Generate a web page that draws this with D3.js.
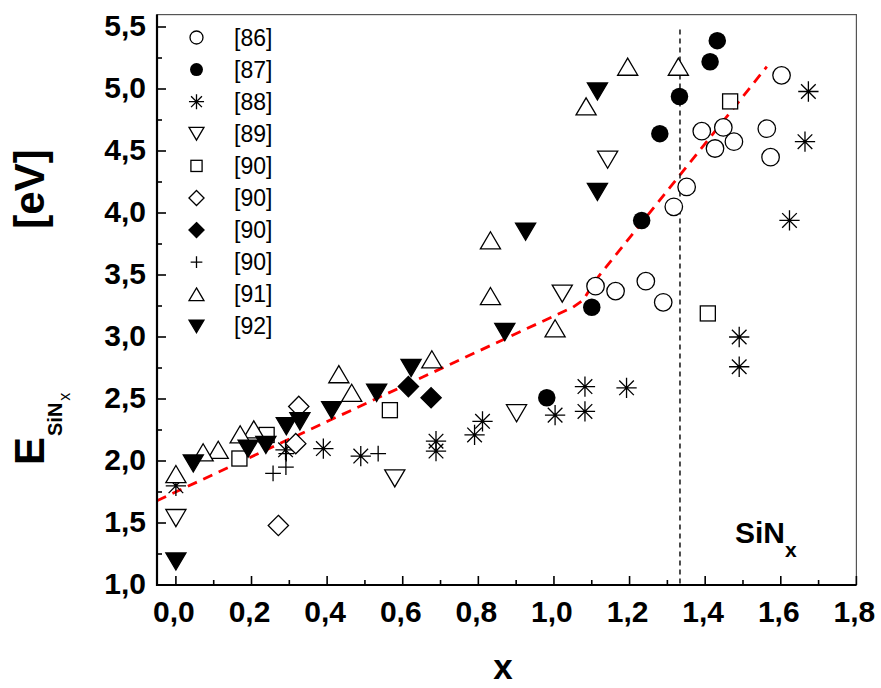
<!DOCTYPE html>
<html><head><meta charset="utf-8">
<script src="https://cdn.jsdelivr.net/npm/d3@7"></script>
<style>body{margin:0;background:#fff}svg{display:block}</style>
</head><body>
<svg id="c" width="881" height="688"></svg>
<script>
// ---------- data ----------
const xTicks = [0.0,0.2,0.4,0.6,0.8,1.0,1.2,1.4,1.6,1.8];
const yTicks = [1.0,1.5,2.0,2.5,3.0,3.5,4.0,4.5,5.0,5.5];
const legendLabels = ["[86]","[87]","[88]","[89]","[90]","[90]","[90]","[90]","[91]","[92]"];
const symbolKinds = ["circleOpen","circleFilled","asterisk","triDownOpen","square","diamondOpen","diamondFilled","plus","triUpOpen","triDownFilled"];

const ref86 = [[1.602,5.11],[1.391,4.66],[1.448,4.69],[1.426,4.52],[1.476,4.575],[1.563,4.68],[1.573,4.45],[1.351,4.21],[1.317,4.05],[1.110,3.41],[1.163,3.37],[1.243,3.45],[1.289,3.28]];
const ref87 = [[1.432,5.39],[1.413,5.22],[1.332,4.94],[1.280,4.64],[1.232,3.94],[1.100,3.24],[0.981,2.51]];
const ref88 = [[1.673,4.98],[1.664,4.575],[1.623,3.94],[1.490,3.00],[1.490,2.76],[1.082,2.60],[1.192,2.59],[1.082,2.40],[1.003,2.37],[0.811,2.32],[0.790,2.21],[0.688,2.16],[0.688,2.08],[0.489,2.04],[0.390,2.10],[0.290,2.09],[0.0,1.80]];
const ref89 = [[1.142,4.43],[1.022,3.35],[0.901,2.385],[0.579,1.86],[0.0,1.54]];
const ref90sq = [[1.466,4.90],[1.407,3.19],[0.566,2.41],[0.240,2.21],[0.168,2.02]];
const ref90di = [[0.325,2.44],[0.317,2.14],[0.271,1.48]];
const ref90fd = [[0.615,2.60],[0.675,2.51]];
const ref90pl = [[0.257,1.90],[0.291,1.95],[0.292,2.06],[0.535,2.06]];
const ref91 = [[1.195,5.18],[1.329,5.18],[1.085,4.86],[0.832,3.78],[0.832,3.33],[1.003,3.07],[0.677,2.82],[0.431,2.70],[0.465,2.55],[0.206,2.255],[0.170,2.215],[0.112,2.09],[0.072,2.07],[0.0,1.895]];
const ref92 = [[1.115,4.98],[1.115,4.17],[0.925,3.85],[0.870,3.04],[0.622,2.75],[0.531,2.55],[0.412,2.41],[0.328,2.32],[0.292,2.28],[0.238,2.13],[0.191,2.10],[0.046,1.98],[0.0,1.19]];
const fitLine = [[-0.05,1.68],[1.05,3.24],[1.078,3.30],[1.108,3.45],[1.563,5.18]];
const si3n4X = 4/3;

const seriesData = [ref86,ref87,ref88,ref89,ref90sq,ref90di,ref90fd,ref90pl,ref91,ref92];

// ---------- layout ----------
const svg = d3.select("#c");
const L = 157, R = 856.4, T = 14.6, B = 585;
const x = d3.scaleLinear().domain([-0.05,1.8]).range([L,R]);
const y = d3.scaleLinear().domain([1.0,5.6]).range([B,T]);
const fmt = v => d3.format(".1f")(v).replace(".",",");
const FONT = "'Liberation Sans', Arial, Helvetica, sans-serif";

// frame (top/right)
svg.append("rect").attr("x",L).attr("y",T).attr("width",R-L).attr("height",B-T)
  .attr("fill","none").attr("stroke","#555").attr("stroke-width",1.2);

// symbol drawing
function sym(g, kind, s) {
  const sw = 1.3;
  switch(kind){
    case "circleOpen": g.append("circle").attr("r",s*0.5).attr("fill","#fff").attr("stroke","#000").attr("stroke-width",sw); break;
    case "circleFilled": g.append("circle").attr("r",s*0.5).attr("fill","#000"); break;
    case "square": g.append("rect").attr("x",-s*0.43).attr("y",-s*0.43).attr("width",s*0.86).attr("height",s*0.86).attr("fill","#fff").attr("stroke","#000").attr("stroke-width",sw); break;
    case "diamondOpen": case "diamondFilled": {
      const r = s*0.58;
      g.append("path").attr("d",`M0,${-r}L${r},0L0,${r}L${-r},0Z`)
       .attr("fill",kind==="diamondFilled"?"#000":"#fff").attr("stroke","#000").attr("stroke-width",sw); break; }
    case "triUpOpen": { const w=s*1.15, h=w*0.85;
      g.append("path").attr("d",`M0,${-h/2}L${w/2},${h/2}L${-w/2},${h/2}Z`).attr("fill","#fff").attr("stroke","#000").attr("stroke-width",sw); break; }
    case "triDownOpen": case "triDownFilled": { const w=s*1.15, h=w*0.85;
      g.append("path").attr("d",`M0,${h/2}L${w/2},${-h/2}L${-w/2},${-h/2}Z`)
       .attr("fill",kind==="triDownFilled"?"#000":"#fff").attr("stroke","#000").attr("stroke-width",sw); break; }
    case "plus": { const r=s*0.45;
      g.append("path").attr("d",`M${-r},0H${r}M0,${-r}V${r}`).attr("stroke","#000").attr("stroke-width",sw).attr("fill","none"); break; }
    case "asterisk": { const r=s*0.58, d=r*0.72;
      g.append("path").attr("d",`M0,${-r}V${r}M${-r},0H${r}M${-d},${-d}L${d},${d}M${-d},${d}L${d},${-d}`)
       .attr("stroke","#000").attr("stroke-width",sw).attr("fill","none"); break; }
  }
}

// red dashed fit
svg.append("path").datum(fitLine)
  .attr("d", d3.line().x(d=>x(d[0])).y(d=>y(d[1])))
  .attr("fill","none").attr("stroke","#ff0000").attr("stroke-width",2.8)
  .attr("stroke-dasharray","10,7");

// vertical Si3N4 line
svg.append("line").attr("x1",x(si3n4X)).attr("x2",x(si3n4X)).attr("y1",y(5.48)).attr("y2",B)
  .attr("stroke","#222").attr("stroke-width",1.6).attr("stroke-dasharray","5,4");

// markers
seriesData.forEach((data,i)=>{
  data.forEach(p=>{
    const g = svg.append("g").attr("transform",`translate(${x(p[0])},${y(p[1])})`);
    sym(g, symbolKinds[i], 17.5);
  });
});

// axes lines
svg.append("line").attr("x1",L).attr("x2",L).attr("y1",T).attr("y2",B+1).attr("stroke","#000").attr("stroke-width",2.2);
svg.append("line").attr("x1",L-1).attr("x2",R).attr("y1",B).attr("y2",B).attr("stroke","#000").attr("stroke-width",2.2);

// x ticks
d3.range(0,1.81,0.1).forEach(v=>{
  const major = Math.abs(Math.round(v*10)%2)===0;
  svg.append("line").attr("x1",x(v)).attr("x2",x(v)).attr("y1",B).attr("y2",B-(major?9:5))
    .attr("stroke","#000").attr("stroke-width",1.6);
});
xTicks.forEach(v=>{
  svg.append("text").attr("x",x(v)-2).attr("y",622).attr("text-anchor","middle")
    .attr("font-family",FONT).attr("font-weight","bold").attr("font-size",30).text(fmt(v));
});
// y ticks
d3.range(1.0,5.51,0.25).forEach(v=>{
  const major = Math.abs(Math.round(v*4)%2)===0;
  svg.append("line").attr("x1",L).attr("x2",L+(major?9:5)).attr("y1",y(v)).attr("y2",y(v))
    .attr("stroke","#000").attr("stroke-width",1.6);
});
yTicks.forEach(v=>{
  svg.append("text").attr("x",146).attr("y",y(v)+9).attr("text-anchor","end")
    .attr("font-family",FONT).attr("font-weight","bold").attr("font-size",30).text(fmt(v));
});

// axis titles
svg.append("text").attr("x",503).attr("y",679).attr("text-anchor","middle")
  .attr("font-family",FONT).attr("font-weight","bold").attr("font-size",35).text("x");
svg.append("text").attr("transform","translate(44,189) rotate(-90)").attr("text-anchor","middle")
  .attr("font-family",FONT).attr("font-weight","bold").attr("font-size",42).text("[eV]");
const et = svg.append("text").attr("transform","translate(44,465) rotate(-90)")
  .attr("font-family",FONT).attr("font-weight","bold");
et.append("tspan").attr("font-size",42).text("E");
et.append("tspan").attr("font-size",20).attr("dy",18).attr("dx",1).text("SiN");
et.append("tspan").attr("font-size",16).attr("dy",8).attr("dx",2).attr("font-weight","normal").text("x");

// SiNx label
const st = svg.append("text").attr("x",735).attr("y",543).attr("font-family",FONT).attr("font-weight","bold");
st.append("tspan").attr("font-size",30).text("SiN");
st.append("tspan").attr("font-size",21).attr("dy",14).text("x");

// legend
legendLabels.forEach((lab,i)=>{
  const yy = 37.5 + i*32.1;
  const g = svg.append("g").attr("transform",`translate(196.5,${yy})`);
  sym(g, symbolKinds[i], 13);
  svg.append("text").attr("x",234).attr("y",yy+8).attr("font-family",FONT)
    .attr("font-size",23).text(lab);
});
</script>
</body></html>
